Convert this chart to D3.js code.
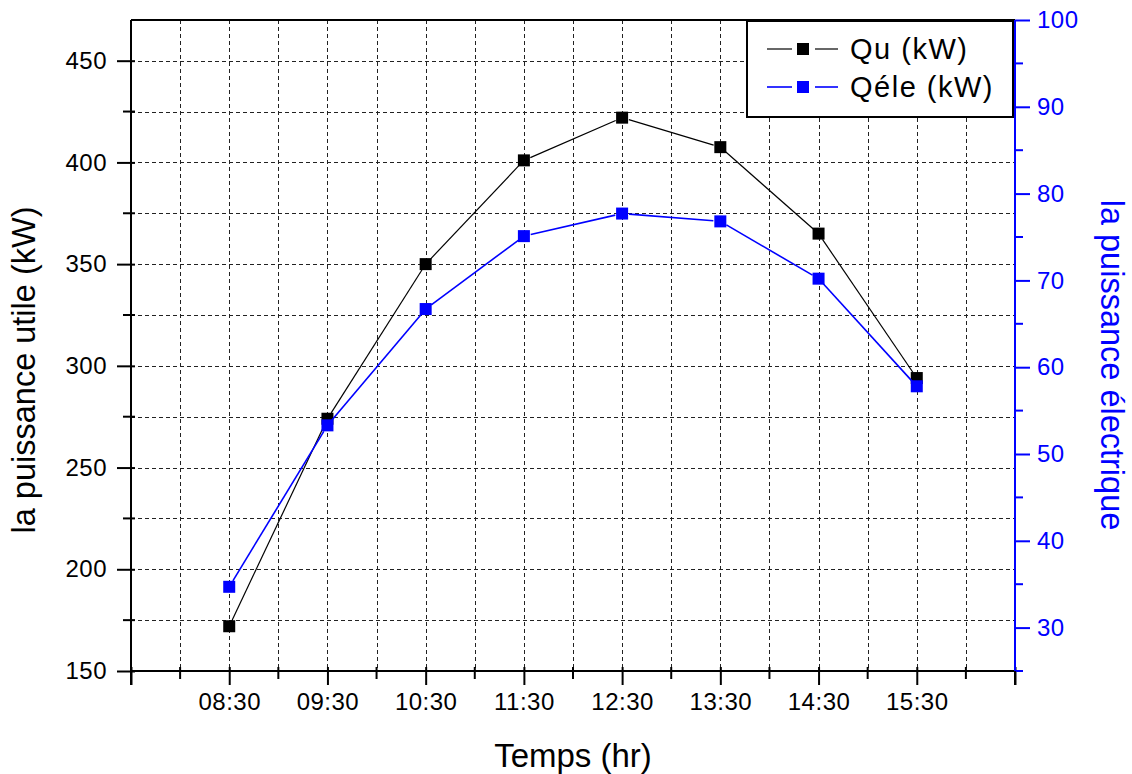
<!DOCTYPE html>
<html>
<head>
<meta charset="utf-8">
<script src="https://cdn.jsdelivr.net/npm/d3@7"></script>
<style>
  html, body { margin: 0; padding: 0; background: #fff; }
  svg text { font-family: Arial, "Liberation Sans", sans-serif; }
</style>
</head>
<body>
<svg id="chart" width="1132" height="774"></svg>
<script>
// Hourly readings
const times = ["08:30", "09:30", "10:30", "11:30", "12:30", "13:30", "14:30", "15:30"];
const qu = [172, 274, 350, 401, 422, 407.5, 365, 294];          // Qu (kW), left axis
const qele = [34.7, 53.3, 66.7, 75.1, 77.7, 76.8, 70.2, 57.8];   // Qéle (kW), right axis

const leftTicks = [150, 200, 250, 300, 350, 400, 450];
const rightTicks = [30, 40, 50, 60, 70, 80, 90, 100];
const seriesNames = ["Qu (kW)", "Qéle (kW)"];

const toHours = s => { const [h, m] = s.split(":").map(Number); return h + m / 60; };
const fmtTime = h => { const hh = Math.floor(h), mm = Math.round((h - hh) * 60); return String(hh).padStart(2, "0") + ":" + String(mm).padStart(2, "0"); };

const svg = d3.select("#chart");
const L = 131, R = 1015, T = 20, B = 671;
const BLUE = "#0000ff";

const x = d3.scaleLinear().domain([7.5, 16.5]).range([L, R]);
const yL = d3.scaleLinear().domain([150, 470]).range([B, T]);
const yR = d3.scaleLinear().domain([25, 100]).range([B, T]);

// Tick positions
const xMajor = d3.range(7.5, 16.6, 1);
const xMinor = d3.range(8, 16.1, 1);
const xGrid = d3.range(8, 16.1, 0.5);
const yLMinor = d3.range(175, 470, 50);
const yLGrid = d3.range(175, 466, 25);
const yRMinor = d3.range(25, 100, 10);

// Dashed grid
const grid = svg.append("g").attr("stroke", "#222").attr("stroke-width", 1).attr("stroke-dasharray", "4,3");
grid.selectAll(".gx").data(xGrid).join("line")
  .attr("x1", d => Math.round(x(d)) + 0.5).attr("x2", d => Math.round(x(d)) + 0.5)
  .attr("y1", T).attr("y2", B);
grid.selectAll(".gy").data(yLGrid).join("line")
  .attr("x1", L).attr("x2", R)
  .attr("y1", d => Math.round(yL(d)) + 0.5).attr("y2", d => Math.round(yL(d)) + 0.5);

// Bottom axis
const axB = svg.append("g").attr("transform", `translate(0,${B})`)
  .call(d3.axisBottom(x).tickValues(xMajor).tickSize(14).tickSizeOuter(0)
    .tickFormat(d => (d >= 8 && d <= 16) ? fmtTime(d) : ""));
axB.append("g").selectAll("line").data(xMinor).join("line")
  .attr("x1", d => x(d)).attr("x2", d => x(d)).attr("y1", -4).attr("y2", 8);
axB.selectAll(".tick line").attr("y1", -4);

// Left axis
const axL = svg.append("g").attr("transform", `translate(${L},0)`)
  .call(d3.axisLeft(yL).tickValues(leftTicks).tickSize(14).tickSizeOuter(0).tickFormat(d3.format("d")));
axL.append("g").selectAll("line").data(yLMinor).join("line")
  .attr("y1", d => yL(d)).attr("y2", d => yL(d)).attr("x1", 4).attr("x2", -8);
axL.selectAll(".tick line").attr("x1", 4);

// Right axis
const axR = svg.append("g").attr("transform", `translate(${R},0)`)
  .call(d3.axisRight(yR).tickValues(rightTicks).tickSize(15).tickSizeOuter(0).tickFormat(d3.format("d")));
axR.append("g").selectAll("line").data(yRMinor).join("line")
  .attr("y1", d => yR(d)).attr("y2", d => yR(d)).attr("x1", 0).attr("x2", 8);

[axB, axL, axR].forEach(a => {
  a.select(".domain").remove();
  a.selectAll("line").attr("stroke-width", 2);
  a.selectAll("text").attr("font-size", 24).attr("letter-spacing", 0.5)
    .attr("font-family", "Arial, 'Liberation Sans', sans-serif");
});
axB.selectAll("line").attr("stroke", "#000");
axL.selectAll("line").attr("stroke", "#000");
axR.selectAll("line").attr("stroke", BLUE);
axR.selectAll("text").attr("fill", BLUE).attr("x", 22);
axL.selectAll("text").attr("fill", "#000").attr("x", -24);
axB.selectAll("text").attr("fill", "#000").attr("y", 22);

// Frame
svg.append("line").attr("x1", L).attr("x2", R).attr("y1", T).attr("y2", T).attr("stroke", "#000").attr("stroke-width", 2);
svg.append("line").attr("x1", L).attr("x2", R).attr("y1", B).attr("y2", B).attr("stroke", "#000").attr("stroke-width", 2);
svg.append("line").attr("x1", L).attr("x2", L).attr("y1", T).attr("y2", B + 14).attr("stroke", "#000").attr("stroke-width", 2);
svg.append("line").attr("x1", R).attr("x2", R).attr("y1", T).attr("y2", B).attr("stroke", BLUE).attr("stroke-width", 2);
svg.append("line").attr("x1", R).attr("x2", R).attr("y1", B).attr("y2", B + 14).attr("stroke", "#000").attr("stroke-width", 2);

// Series
const series = [
  { name: seriesNames[0], values: qu, y: yL, color: "#000", width: 1.2 },
  { name: seriesNames[1], values: qele, y: yR, color: BLUE, width: 1.6 }
];
const MS = 12;
series.forEach(s => {
  const pts = times.map((t, i) => [x(toHours(t)), s.y(s.values[i])]);
  const gap = 7;
  const segs = d3.pairs(pts).map(([a, b]) => {
    const dx = b[0] - a[0], dy = b[1] - a[1], len = Math.hypot(dx, dy);
    const ux = dx / len, uy = dy / len;
    return [[a[0] + ux * gap, a[1] + uy * gap], [b[0] - ux * gap, b[1] - uy * gap]];
  });
  svg.append("g").selectAll("line").data(segs).join("line")
    .attr("x1", d => d[0][0]).attr("y1", d => d[0][1])
    .attr("x2", d => d[1][0]).attr("y2", d => d[1][1])
    .attr("stroke", s.color).attr("stroke-width", s.width);
  svg.append("g").selectAll("rect").data(pts).join("rect")
    .attr("x", d => d[0] - MS / 2).attr("y", d => d[1] - MS / 2)
    .attr("width", MS).attr("height", MS).attr("fill", s.color);
});

// Axis titles
svg.append("text").attr("transform", `translate(35,370) rotate(-90)`)
  .attr("text-anchor", "middle").attr("font-size", 32.5).attr("fill", "#000")
  .text("la puissance utile (kW)");
svg.append("text").attr("transform", `translate(1101,365) rotate(90)`)
  .attr("text-anchor", "middle").attr("font-size", 32.5).attr("fill", BLUE)
  .text("la puissance électrique");
svg.append("text").attr("x", 573).attr("y", 767)
  .attr("text-anchor", "middle").attr("font-size", 33).attr("fill", "#000")
  .text("Temps (hr)");

// Legend
const lg = svg.append("g");
lg.append("rect").attr("x", 747).attr("y", 21).attr("width", 266).attr("height", 96)
  .attr("fill", "#fff").attr("stroke", "#000").attr("stroke-width", 2);
series.forEach((s, i) => {
  const cy = 49 + i * 38;
  lg.append("line").attr("x1", 767).attr("x2", 792).attr("y1", cy).attr("y2", cy).attr("stroke", s.color).attr("stroke-width", s.width);
  lg.append("line").attr("x1", 815).attr("x2", 838).attr("y1", cy).attr("y2", cy).attr("stroke", s.color).attr("stroke-width", s.width);
  lg.append("rect").attr("x", 803 - MS / 2).attr("y", cy - MS / 2).attr("width", MS).attr("height", MS).attr("fill", s.color);
  lg.append("text").attr("x", 850).attr("y", cy + 10).attr("font-size", 29).attr("letter-spacing", 1.5)
    .attr("fill", "#000").text(s.name);
});
</script>
</body>
</html>
